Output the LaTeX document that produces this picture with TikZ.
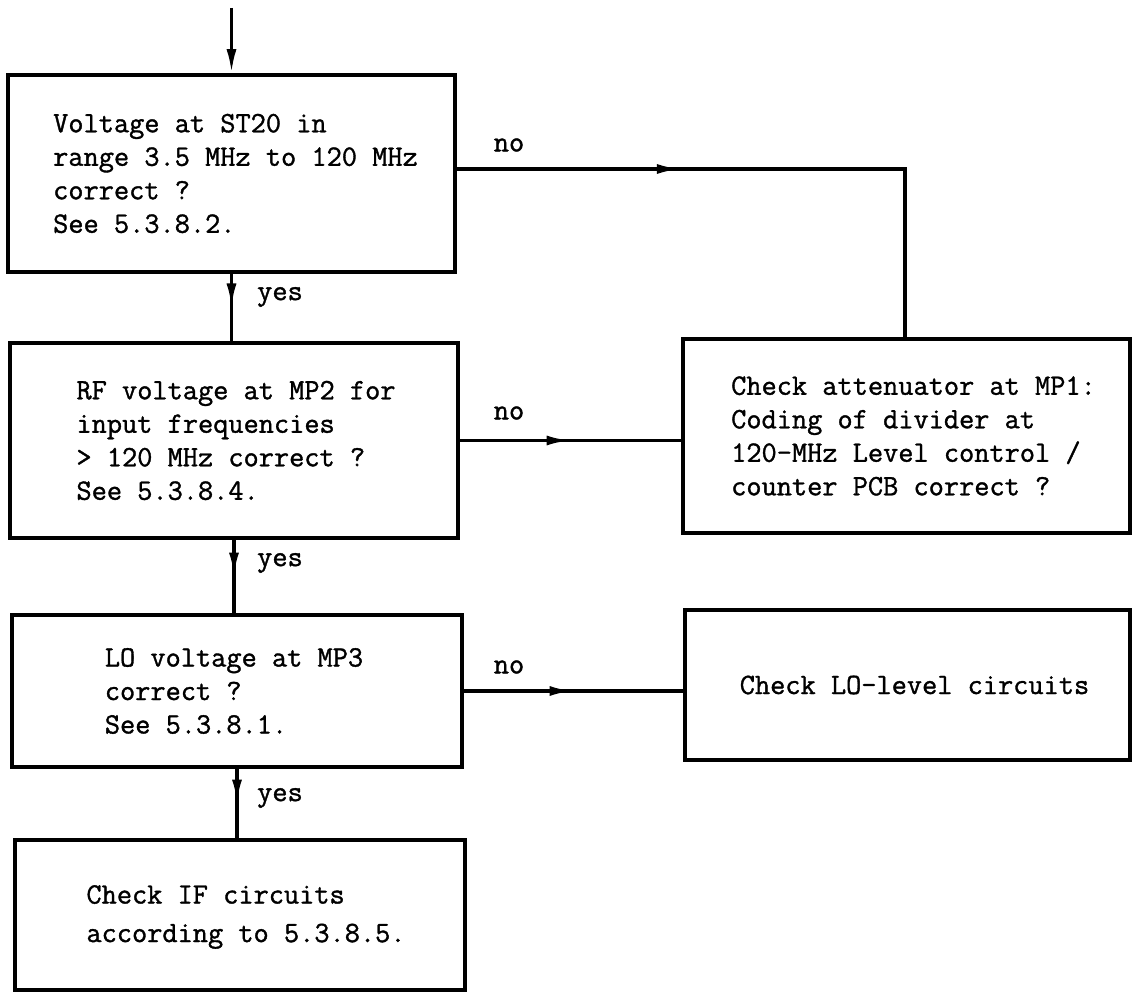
\documentclass[tikz,border=0pt]{standalone}
\usepackage{fontspec}
\newfontfamily\tw{Latin Modern Mono}[FakeBold=1.2]
\usetikzlibrary{arrows.meta,decorations.markings}
\begin{document}
\begin{tikzpicture}[x=1pt,y=-1pt,
  box/.style={draw, line width=3.6pt, rectangle, inner sep=0pt},
  txt/.style={inner sep=0pt, align=left, font=\tw\fontsize{29.5}{33.5}\selectfont},
  conn/.style={line width=3.2pt},
  midarrow/.style={conn, postaction={decorate}, decoration={markings,
    mark=at position 0.5 with {\arrow{Latex[length=24pt,width=10pt]}}}},
  lbl/.style={font=\tw\fontsize{29.5}{30}\selectfont, inner sep=0pt}]
\useasboundingbox (0,0) rectangle (1132,992);
\fill[white] (0,0) rectangle (1132,992);

\node[box, minimum width=447pt, minimum height=197pt] (b1) at (231.5,173.5) {};
\node[box, minimum width=448pt, minimum height=195pt] (b2) at (234,440.5) {};
\node[box, minimum width=450pt, minimum height=152pt] (b3) at (237,691) {};
\node[box, minimum width=450pt, minimum height=150pt] (b4) at (240,915) {};
\node[box, minimum width=447pt, minimum height=194pt] (r1) at (906.5,436) {};
\node[box, minimum width=445pt, minimum height=150pt] (r2) at (907.5,685) {};

\node[txt, xshift=4pt] (t1) at (b1.center)
  {Voltage at ST20 in\\range 3.5 MHz to 120 MHz\\correct ?\\See 5.3.8.2.};
\node[txt, xshift=2pt] (t2) at (b2.center)
  {RF voltage at MP2 for\\input frequencies\\> 120 MHz correct ?\\See 5.3.8.4.};
\node[txt, xshift=-3pt] (t3) at (b3.center)
  {LO voltage at MP3\\correct ?\\See 5.3.8.1.};
\node[txt, xshift=6pt, yshift=-2pt, font=\tw\fontsize{29.5}{38.5}\selectfont] (t4) at (b4.center)
  {Check IF circuits\\according to 5.3.8.5.};
\node[txt, xshift=7pt] (t5) at (r1.center)
  {Check attenuator at MP1:\\Coding of divider at\\120-MHz Level control /\\counter PCB correct ?};
\node[txt, xshift=7pt] (t6) at (r2.center)
  {Check LO-level circuits};

\coordinate (top) at (231.5,8);
\coordinate (c1) at (905,169);

\draw[conn,-{Latex[length=24pt,width=10pt]}] (top) -- (b1.north);
\draw[midarrow] (b1.south) -- (b1.south |- b2.north);
\draw[midarrow] (b2.south) -- (b2.south |- b3.north);
\draw[midarrow] (b3.south) -- (b3.south |- b4.north);

\draw[midarrow] (b1.east |- c1) -- (c1);
\draw[conn, line cap=rect] (c1) -- (c1 |- r1.north);
\draw[midarrow] (b2.east) -- (b2.east -| r1.west);
\draw[midarrow] (b3.east) -- (b3.east -| r2.west);

\node[lbl, anchor=west] (y1) at (257,297) {yes};
\node[lbl, anchor=west] (y2) at (257,563) {yes};
\node[lbl, anchor=west] (y3) at (257,798) {yes};
\node[lbl] (n1) at (509,145) {no};
\node[lbl] (n2) at (509,413) {no};
\node[lbl] (n3) at (509,667) {no};
\end{tikzpicture}
\end{document}
